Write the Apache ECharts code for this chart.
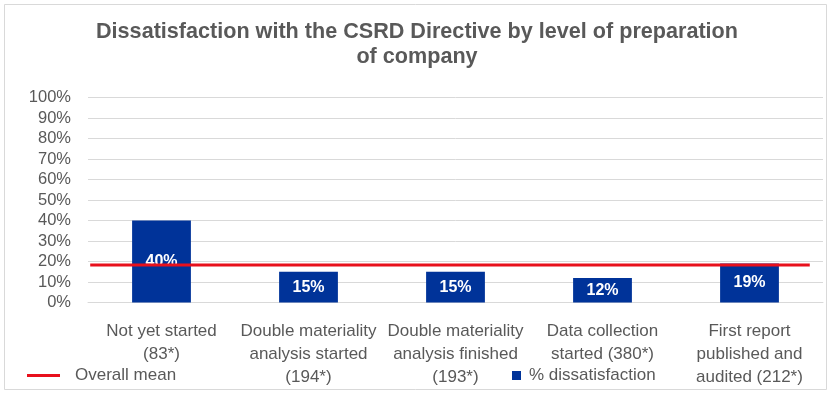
<!DOCTYPE html>
<html>
<head>
<meta charset="utf-8">
<script src="https://cdn.jsdelivr.net/npm/echarts@6/dist/echarts.min.js"></script>
<style>
html,body{margin:0;padding:0;background:#fff;}
#c{width:834px;height:393px;}
</style>
</head>
<body>
<div id="c"></div>
<script>
var categories = [
  "Not yet started\n(83*)",
  "Double materiality\nanalysis started\n(194*)",
  "Double materiality\nanalysis finished\n(193*)",
  "Data collection\nstarted (380*)",
  "First report\npublished and\naudited (212*)"
];
var dissatisfaction = [40, 15, 15, 12, 19];
var overallMean = 18.3;
var meanSpan = [0.003, 0.982];
var yTicks = [0, 10, 20, 30, 40, 50, 60, 70, 80, 90, 100];

var textColor = '#595959';
var font = '"Liberation Sans", Arial, sans-serif';

var chart = echarts.init(document.getElementById('c'), null, {renderer: 'canvas'});
chart.setOption({
  backgroundColor: '#fff',
  animation: false,
  textStyle: {fontFamily: font},
  title: {
    text: 'Dissatisfaction with the CSRD Directive by level of preparation\nof company',
    left: 'center',
    top: 15,
    textStyle: {fontSize: 21.6, fontWeight: 'bold', color: textColor, lineHeight: 25, fontFamily: font}
  },
  graphic: [{
    type: 'rect',
    shape: {x: 4.5, y: 4.5, width: 822, height: 385},
    style: {fill: 'none', stroke: '#d9d9d9', lineWidth: 1},
    silent: true,
    z: -1
  }],
  legend: [{
    data: [{name: 'Overall mean', icon: 'rect', itemStyle: {color: '#e8101c'}}],
    left: 22,
    top: 362,
    itemWidth: 33,
    itemHeight: 3,
    textStyle: {fontSize: 17, color: textColor, padding: [0, 0, 0, 10], fontFamily: font}
  }, {
    data: [{name: '% dissatisfaction', icon: 'rect'}],
    left: 507,
    top: 362,
    itemWidth: 9,
    itemHeight: 9,
    textStyle: {fontSize: 17, color: textColor, padding: [0, 0, 0, 3], fontFamily: font}
  }],
  grid: {left: 88, right: 11, top: 97.5, bottom: 90.5, containLabel: false},
  xAxis: [{
    type: 'category',
    data: categories,
    axisLine: {show: true, lineStyle: {color: '#d9d9d9'}},
    axisTick: {show: false},
    axisLabel: {interval: 0, fontSize: 17, lineHeight: 23, color: textColor, margin: 17, align: 'center', fontFamily: font}
  }, {
    type: 'value',
    min: 0,
    max: 1,
    show: false
  }],
  yAxis: {
    type: 'value',
    min: 0,
    max: 100,
    interval: 10,
    axisLine: {show: false},
    axisTick: {show: false},
    splitLine: {lineStyle: {color: '#d9d9d9', width: 1}},
    axisLabel: {formatter: function (v) { return yTicks.indexOf(v) >= 0 ? v + '%' : ''; }, fontSize: 16.5, color: textColor, margin: 17, fontFamily: font}
  },
  series: [{
    name: '% dissatisfaction',
    type: 'bar',
    data: dissatisfaction,
    barWidth: '40%',
    itemStyle: {color: '#003399'},
    label: {show: true, position: 'inside', formatter: '{c}%', color: '#fff', fontWeight: 'bold', fontSize: 16, fontFamily: font},
    z: 2
  }, {
    name: 'Overall mean',
    type: 'line',
    xAxisIndex: 1,
    data: [[meanSpan[0], overallMean], [meanSpan[1], overallMean]],
    symbol: 'none',
    lineStyle: {color: '#e8101c', width: 3},
    itemStyle: {color: '#e8101c'},
    z: 5
  }]
});
</script>
</body>
</html>
